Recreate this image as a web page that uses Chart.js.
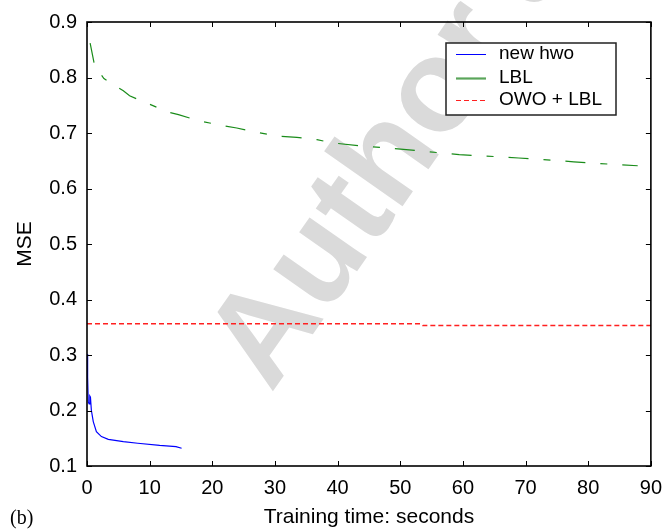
<!DOCTYPE html>
<html>
<head>
<meta charset="utf-8">
<script src="https://cdn.jsdelivr.net/npm/chart.js@4.4.1/dist/chart.umd.min.js"></script>
<style>
  body { margin: 0; background: #fff; }
  canvas { display: block; }
</style>
</head>
<body>
<canvas id="mse-chart" width="672" height="529"></canvas>
<script>
// training time (s) / MSE
const hwoTime = [0, 0.1, 0.2, 0.35, 0.45, 0.55, 0.7, 1.0, 1.5, 2.3, 3.4, 5.8, 8.1, 11.6, 14.2, 15.1];
const hwoMse = [0.302, 0.26, 0.215, 0.212, 0.226, 0.224, 0.2, 0.18, 0.162, 0.153, 0.148, 0.144, 0.141, 0.137, 0.135, 0.132];

const lblTime = [0.5, 1.2, 2.7, 3.7, 5.8, 6.8, 8.9, 11.2, 12.2, 14.6, 17.9, 20.4, 23.9, 27.2, 30.8, 33.5, 36.7, 39.3, 44.3, 49.1, 53.8, 59.4, 62.8, 68.9, 75.5, 77.7, 81.8, 87.9];
const lblMse = [0.862, 0.822, 0.798, 0.791, 0.776, 0.767, 0.757, 0.746, 0.740, 0.733, 0.722, 0.716, 0.709, 0.701, 0.694, 0.692, 0.688, 0.682, 0.676, 0.672, 0.667, 0.661, 0.659, 0.655, 0.650, 0.648, 0.645, 0.641];

const owoTime = [0, 53.2, 53.6, 90];
const owoMse = [0.3565, 0.3565, 0.353, 0.353];

const seriesNames = ['new hwo', 'LBL', 'OWO + LBL'];
const xTicks = [0, 10, 20, 30, 40, 50, 60, 70, 80, 90];
const yTicks = [0.1, 0.2, 0.3, 0.4, 0.5, 0.6, 0.7, 0.8, 0.9];

function pairs(xs, ys) {
    return xs.map((x, i) => ({ x: x, y: ys[i] }));
}

const FONT = '"Liberation Sans", Arial, Helvetica, sans-serif';

// watermark, box with inward ticks, legend and the (b) label
const decorations = {
    id: 'decorations',
    beforeDatasetsDraw(chart) {
        const ctx = chart.ctx;
        ctx.save();
        ctx.translate(271, 394);
        ctx.rotate(-55 * Math.PI / 180);
        ctx.fillStyle = '#dadada';
        ctx.font = 'bold 132px ' + FONT;
        ctx.textBaseline = 'alphabetic';
        ctx.fillText("Author's personal copy", 0, 0);
        ctx.restore();
    },
    afterDatasetsDraw(chart) {
        const ctx = chart.ctx;
        const a = chart.chartArea;
        const xs = chart.scales.x, ys = chart.scales.y;
        ctx.save();
        ctx.strokeStyle = '#000';
        ctx.lineWidth = 1;
        ctx.beginPath();
        xTicks.forEach(v => {
            const px = Math.round(xs.getPixelForValue(v)) + 0.5;
            ctx.moveTo(px, a.bottom); ctx.lineTo(px, a.bottom - 5);
            ctx.moveTo(px, a.top); ctx.lineTo(px, a.top + 5);
        });
        yTicks.forEach(v => {
            const py = Math.round(ys.getPixelForValue(v)) + 0.5;
            ctx.moveTo(a.left, py); ctx.lineTo(a.left + 5, py);
            ctx.moveTo(a.right, py); ctx.lineTo(a.right - 5, py);
        });
        ctx.stroke();
        ctx.lineWidth = 1.6;
        ctx.strokeRect(a.left, a.top, a.right - a.left, a.bottom - a.top);

        // legend
        ctx.fillStyle = '#fff';
        ctx.fillRect(446, 43, 170, 72);
        ctx.strokeStyle = '#222';
        ctx.lineWidth = 1.5;
        ctx.strokeRect(446, 43, 170, 72);
        const rows = [54, 78, 100];
        ctx.font = '19px ' + FONT;
        ctx.textBaseline = 'middle';
        ctx.fillStyle = '#000';
        chart.data.datasets.forEach((ds, i) => {
            ctx.beginPath();
            ctx.strokeStyle = ds.legendColor || ds.borderColor;
            ctx.lineWidth = ds.legendWidth || 1;
            ctx.setLineDash(i === 2 ? ds.borderDash : []);
            ctx.moveTo(456, rows[i] + 0.5);
            ctx.lineTo(486, rows[i] + 0.5);
            ctx.stroke();
            ctx.setLineDash([]);
            ctx.fillText(ds.label, 499, rows[i]);
        });

        ctx.font = '20px "Liberation Serif", "Times New Roman", serif';
        ctx.textBaseline = 'middle';
        ctx.fillText('(b)', 10, 519);
        ctx.restore();
    }
};

const chartEl = document.getElementById('mse-chart');
new Chart(chartEl, {
    type: 'line',
    data: {
        datasets: [
            {
                label: seriesNames[0],
                data: pairs(hwoTime, hwoMse),
                borderColor: '#0000ff',
                borderWidth: 1.2,
                pointRadius: 0,
                tension: 0
            },
            {
                label: seriesNames[1],
                data: pairs(lblTime, lblMse),
                borderColor: '#1a8c1a',
                legendColor: '#5aa55a',
                legendWidth: 2.2,
                borderWidth: 1.2,
                borderDash: [20, 15, 7, 15],
                pointRadius: 0,
                tension: 0
            },
            {
                label: seriesNames[2],
                data: pairs(owoTime, owoMse),
                borderColor: '#ff2020',
                borderWidth: 1.5,
                borderDash: [5, 3],
                pointRadius: 0,
                tension: 0
            }
        ]
    },
    options: {
        responsive: false,
        animation: false,
        layout: { padding: { left: 0, top: 20, right: 17, bottom: 0 } },
        plugins: {
            legend: { display: false },
            tooltip: { enabled: false }
        },
        scales: {
            x: {
                type: 'linear',
                min: 0,
                max: 90,
                afterFit: s => { s.height = 63; },
                afterBuildTicks: s => { s.ticks = xTicks.map(v => ({ value: v })); },
                grid: { display: false, drawTicks: false },
                border: { display: false },
                ticks: {
                    color: '#000',
                    padding: 10,
                    maxRotation: 0,
                    font: { family: FONT, size: 20 },
                    callback: v => String(v)
                },
                title: {
                    display: true,
                    text: 'Training time: seconds',
                    color: '#000',
                    font: { family: FONT, size: 21, lineHeight: 1.1 },
                    padding: { top: 0, bottom: 0 }
                }
            },
            y: {
                min: 0.1,
                max: 0.9,
                afterFit: s => { s.width = 87; },
                afterBuildTicks: s => { s.ticks = yTicks.map(v => ({ value: v })); },
                grid: { display: false, drawTicks: false },
                border: { display: false },
                ticks: {
                    color: '#000',
                    padding: 10,
                    font: { family: FONT, size: 20 },
                    callback: v => v.toFixed(1)
                },
                title: {
                    display: true,
                    text: 'MSE',
                    color: '#000',
                    font: { family: FONT, size: 21, lineHeight: 1.1 },
                    padding: { top: 14, bottom: 0 }
                }
            }
        }
    },
    plugins: [decorations]
});
</script>
</body>
</html>
